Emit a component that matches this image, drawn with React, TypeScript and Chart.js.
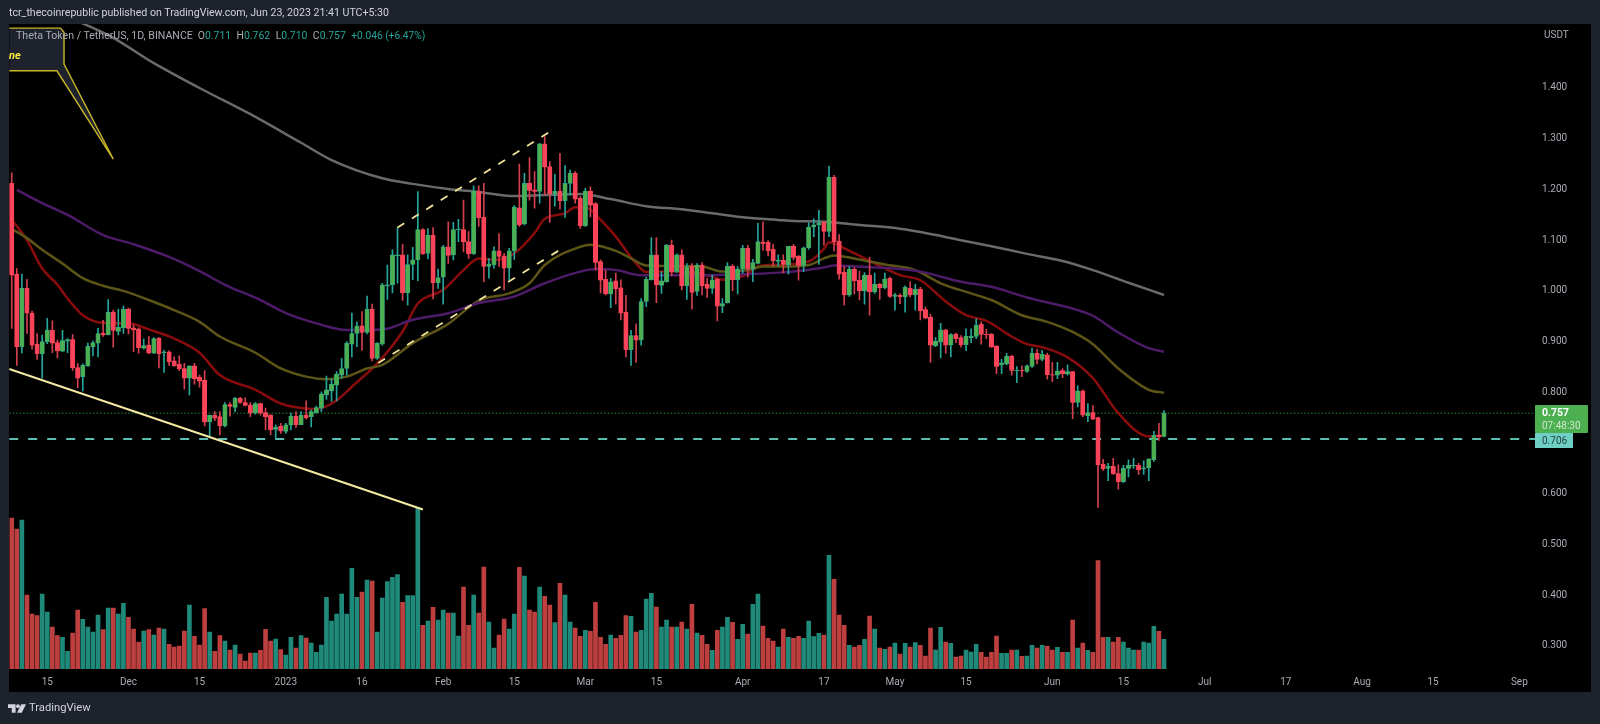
import React, { useEffect, useRef } from "react";
import { Chart, registerables } from "chart.js";

Chart.register(...registerables);

const opens = [1.210,1.031,.888,1.003,.954,.893,.874,.898,.920,.896,.879,.899,.902,.847,.829,.850,.888,.895,.915,.911,.956,.918,.925,.962,.925,.923,.885,.891,.875,.905,.876,.878,.860,.853,.845,.826,.850,.828,.822,.740,.753,.750,.732,.774,.768,.786,.778,.773,.757,.776,.758,.753,.725,.731,.721,.733,.751,.734,.753,.750,.758,.767,.793,.801,.812,.832,.845,.893,.914,.929,.916,.962,.865,.893,1.008,1.010,1.067,1.069,.994,1.050,1.059,1.119,1.072,1.108,1.014,1.025,1.085,1.069,1.118,1.119,1.095,1.071,1.195,1.143,1.046,1.049,1.077,1.067,1.043,1.077,1.162,1.130,1.210,1.197,1.194,1.288,1.243,1.189,1.195,1.176,1.210,1.230,1.181,1.126,1.195,1.170,1.056,1.021,.992,1.018,1.004,.956,.882,.910,.901,.977,1.020,1.069,1.009,1.016,1.088,1.036,1.069,1.008,1.047,.997,1.049,1.011,1.003,1.021,.968,.975,1.047,1.020,1.041,1.082,1.041,1.052,1.094,1.094,1.080,1.056,1.058,1.049,1.086,1.066,1.048,1.083,1.124,1.128,1.133,1.115,1.222,1.096,1.035,.990,1.041,1.019,.998,1.029,.996,1.011,1.004,1.023,.987,.989,.986,1.003,.990,1.001,.961,.946,.890,.897,.921,.891,.913,.906,.892,.906,.908,.932,.913,.913,.889,.852,.854,.869,.840,.842,.839,.849,.875,.863,.872,.833,.832,.841,.834,.839,.778,.801,.752,.758,.748,.656,.648,.652,.638,.622,.648,.653,.654,.647,.649,.665,.713,.711];
const highs = [1.231,1.042,1.031,1.021,.958,.914,.911,.944,.939,.901,.920,.904,.912,.855,.854,.895,.899,.924,.940,.981,.960,.962,.968,.964,.931,.925,.903,.908,.906,.906,.881,.880,.868,.870,.855,.850,.855,.832,.841,.753,.760,.760,.778,.778,.788,.788,.787,.778,.778,.777,.767,.754,.734,.737,.737,.757,.760,.760,.781,.763,.771,.799,.830,.824,.839,.865,.898,.954,.937,.957,.988,.972,.896,1.013,1.049,1.079,1.123,1.090,1.069,1.084,1.194,1.121,1.121,1.123,1.041,1.088,1.134,1.133,1.139,1.177,1.115,1.205,1.205,1.210,1.062,1.085,1.111,1.072,1.082,1.166,1.248,1.230,1.261,1.233,1.289,1.302,1.253,1.228,1.269,1.245,1.236,1.233,1.184,1.200,1.203,1.172,1.059,1.039,1.023,1.033,1.020,.989,.920,.933,.983,1.025,1.103,1.103,1.036,1.090,1.098,1.071,1.079,1.052,1.052,1.052,1.054,1.023,1.029,1.023,.983,1.054,1.050,1.046,1.088,1.088,1.060,1.131,1.134,1.097,1.090,1.069,1.069,1.086,1.090,1.068,1.085,1.132,1.140,1.157,1.134,1.244,1.226,1.109,1.046,1.046,1.044,1.037,1.034,1.064,1.033,1.013,1.033,1.025,.993,.992,1.008,1.016,1.011,1.005,.966,.952,.906,.934,.922,.914,.915,.910,.923,.923,.943,.937,.922,.914,.890,.863,.875,.871,.849,.850,.852,.885,.883,.881,.875,.857,.857,.845,.852,.839,.811,.803,.776,.772,.749,.666,.658,.668,.655,.654,.665,.668,.658,.663,.667,.721,.737,.762];
const lows = [.924,.851,.875,.914,.883,.863,.826,.894,.876,.866,.878,.876,.841,.807,.801,.849,.870,.868,.908,.911,.887,.911,.914,.913,.878,.875,.883,.874,.874,.846,.837,.851,.849,.841,.804,.793,.814,.808,.732,.712,.742,.714,.730,.751,.760,.776,.771,.750,.755,.753,.724,.714,.707,.717,.717,.724,.729,.734,.745,.730,.757,.760,.784,.780,.781,.826,.832,.868,.888,.881,.913,.860,.863,.891,.981,.994,1.013,.979,.970,1.020,1.018,1.070,1.061,.982,1.003,.972,1.052,1.059,1.095,1.075,1.062,1.070,1.125,1.016,1.023,1.043,1.046,1.000,1.019,1.060,1.125,1.128,1.177,1.161,1.171,1.187,1.133,1.165,1.159,1.143,1.187,1.171,1.121,1.125,1.144,1.039,.994,.990,.965,.972,.941,.868,.851,.857,.891,.967,1.019,.975,.993,1.015,1.028,1.034,1.000,.981,.962,.989,.990,.985,.993,.939,.955,.974,.998,.992,1.033,1.025,1.016,1.051,1.078,1.067,1.047,1.047,1.034,1.031,1.059,1.019,1.036,1.080,1.105,1.050,1.088,1.105,1.077,1.021,.970,.987,.992,.980,.972,.950,.993,.981,1.002,.985,.960,.973,.956,.986,.960,.941,.943,.857,.888,.866,.875,.868,.896,.887,.880,.896,.904,.893,.904,.887,.835,.835,.852,.832,.817,.829,.837,.847,.854,.860,.824,.819,.825,.827,.832,.746,.769,.750,.740,.744,.571,.644,.624,.636,.607,.620,.631,.648,.636,.636,.624,.662,.703,.710];
const closes = [1.029,.888,1.003,.954,.891,.874,.898,.921,.895,.880,.900,.902,.846,.826,.851,.889,.896,.914,.911,.956,.920,.926,.962,.924,.921,.886,.890,.875,.904,.874,.878,.858,.850,.844,.826,.850,.825,.820,.739,.753,.747,.732,.774,.770,.786,.778,.772,.757,.776,.758,.750,.724,.729,.722,.734,.751,.734,.753,.748,.760,.768,.795,.803,.814,.834,.845,.895,.914,.929,.916,.962,.865,.895,1.010,1.010,1.069,1.069,.994,1.050,1.059,1.119,1.071,1.108,1.014,1.024,1.085,1.068,1.119,1.120,1.095,1.071,1.195,1.142,1.046,1.051,1.077,1.066,1.043,1.077,1.163,1.128,1.210,1.196,1.194,1.288,1.242,1.189,1.195,1.176,1.210,1.230,1.179,1.126,1.195,1.167,1.054,1.019,.992,1.016,1.002,.954,.882,.910,.901,.977,1.021,1.069,1.010,1.018,1.088,1.036,1.069,1.008,1.045,.995,1.049,1.008,1.003,1.020,.968,.973,1.047,1.020,1.041,1.082,1.041,1.054,1.095,1.091,1.077,1.057,1.059,1.050,1.086,1.064,1.048,1.083,1.124,1.128,1.132,1.115,1.222,1.095,1.031,.990,1.041,1.018,.998,1.029,.996,1.011,1.004,1.022,.987,.990,.986,1.005,.990,1.001,.959,.944,.891,.899,.921,.891,.912,.904,.892,.909,.909,.930,.912,.911,.887,.849,.856,.869,.841,.842,.840,.850,.875,.863,.873,.833,.832,.840,.835,.839,.778,.801,.753,.758,.745,.655,.647,.652,.637,.622,.648,.654,.654,.645,.649,.667,.713,.710,.757];
const volumes = [453,420,447,222,165,160,225,171,126,100,95,53,108,177,149,126,111,162,118,183,183,165,197,155,120,81,114,118,102,123,120,74,66,69,114,192,98,72,181,111,53,100,84,57,72,45,24,48,48,56,119,84,90,58,42,95,63,100,93,78,50,72,215,144,165,225,165,302,215,231,267,264,111,213,262,275,283,200,220,220,482,131,144,185,147,177,168,168,99,246,131,222,168,306,141,63,102,150,120,165,305,279,177,171,246,218,192,139,257,222,141,123,98,116,113,200,95,74,102,92,101,160,158,111,116,210,227,186,126,147,126,126,141,120,194,108,101,74,56,116,126,155,140,89,134,105,194,225,129,92,84,66,120,95,92,98,92,144,97,107,102,341,269,162,131,71,66,71,89,159,120,63,59,66,78,45,77,66,79,71,39,123,57,125,81,77,36,39,57,51,74,50,36,50,99,47,47,57,57,38,39,71,63,71,68,57,65,50,50,147,63,78,56,50,325,95,95,81,95,81,63,57,57,81,78,128,113,89];

const ema20Days = [0,3,6,9,11,14,18,23,27,32,37,41,48,53,57,60,64,67,72,77,80,85,89,92,95,99,103,105,109,111,113,116,119,123,125,128,132,138,140,145,147,150,157,160,161,164,168,175,179,184,188,192,197,200,203,208,213,218,224,227];
const ema20 = [1.138,1.098,1.042,1.010,.983,.950,.935,.934,.922,.904,.876,.832,.803,.776,.767,.765,.782,.809,.855,.918,.973,1.000,1.039,1.062,1.059,1.072,1.112,1.140,1.151,1.163,1.163,1.138,1.105,1.052,1.035,1.036,1.036,1.026,1.020,1.031,1.046,1.049,1.056,1.081,1.094,1.082,1.062,1.029,1.019,.977,.950,.939,.908,.893,.887,.867,.826,.757,.711,.713];
const ema50Days = [0,3,6,10,14,18,22,27,32,37,41,48,53,58,62,66,70,73,79,86,92,98,102,105,112,114,119,122,125,130,136,140,145,148,152,157,160,162,167,172,178,183,189,193,199,204,209,213,218,224,227];
const ema50 = [1.120,1.102,1.079,1.052,1.023,1.008,.998,.980,.960,.937,.908,.876,.845,.829,.824,.829,.845,.852,.895,.933,.979,.993,1.013,1.049,1.085,1.089,1.077,1.062,1.048,1.047,1.046,1.036,1.039,1.046,1.046,1.049,1.062,1.068,1.060,1.050,1.039,1.013,.993,.980,.950,.937,.917,.893,.845,.803,.797];
const ema100Days = [1,6,11,18,24,31,37,42,49,54,60,66,73,79,86,92,99,105,112,115,119,124,128,138,145,151,154,160,162,167,174,179,187,193,200,210,213,218,224,227];
const ema100 = [1.197,1.171,1.148,1.108,1.090,1.065,1.037,1.010,.980,.954,.934,.921,.922,.941,.954,.974,.987,1.013,1.036,1.041,1.039,1.029,1.029,1.029,1.031,1.034,1.036,1.044,1.048,1.046,1.042,1.036,1.016,1.006,.985,.960,.949,.916,.885,.878];
const ema200Days = [13,20,28,37,48,57,63,73,79,86,92,99,105,112,118,125,132,138,145,151,154,161,167,174,179,187,193,200,207,213,220,227];
const ema200 = [1.530,1.497,1.447,1.398,1.341,1.290,1.256,1.220,1.209,1.199,1.193,1.185,1.187,1.189,1.179,1.165,1.159,1.151,1.142,1.138,1.136,1.134,1.128,1.122,1.114,1.098,1.086,1.071,1.057,1.039,1.014,.990];

const lastPrice = 0.757;
const supportLevel = 0.706;
const trendDays = [-0.5, 81];
const trendPrices = [0.844, 0.567];
const channelUpDays = [76, 106.2];
const channelUpPrices = [1.123, 1.313];
const channelLowDays = [72.2, 108];
const channelLowPrices = [0.856, 1.079];
const calloutDays = [-0.5, 9.6, 10.3, 10.3, 20, 8.9, -0.5];
const calloutPrices = [1.516, 1.516, 1.508, 1.445, 1.258, 1.432, 1.432];

const tickDays = [7, 23, 37, 54, 69, 85, 99, 113, 127, 144, 160, 174, 188, 205, 219, 235, 251, 266, 280, 297];
const tickLabels = ["15", "Dec", "15", "2023", "16", "Feb", "15", "Mar", "15", "Apr", "17", "May", "15", "Jun", "15", "Jul", "17", "Aug", "15", "Sep"];
const priceTicks = [0.3, 0.4, 0.5, 0.6, 0.7, 0.8, 0.9, 1.0, 1.1, 1.2, 1.3, 1.4];

const UI = "Roboto, sans-serif";

const zip = (xs: number[], ys: number[]) => xs.map((x, k) => ({ x, y: ys[k] }));

function lineSet(data: any[], color: string, width: number, order: number, extra: any = {}) {
  return { type: "line", data, borderColor: color, borderWidth: width, pointRadius: 0, order, yAxisID: "y", ...extra };
}

export default function App() {
  const ref = useRef<HTMLCanvasElement>(null);
  useEffect(() => {
    const idx = opens.map((_, i) => i);
    const up = (i: number) => closes[i] >= opens[i];
    const smooth = { cubicInterpolationMode: "monotone" };
    const chart = new Chart(ref.current as HTMLCanvasElement, {
      type: "bar",
      data: {
        datasets: [
          {
            type: "bar", yAxisID: "vol", order: 20, grouped: false, barThickness: 4,
            data: idx.map((i) => ({ x: i, y: volumes[i] })),
            backgroundColor: idx.map((i) => (up(i) ? "#1f8a7a" : "#bd3f3f")),
          },
          lineSet([{ x: -0.5, y: lastPrice }, { x: 300.5, y: lastPrice }], "#2f8f35", 1, 15, { borderDash: [1.5, 2] }),
          lineSet([{ x: -0.5, y: supportLevel }, { x: 300.5, y: supportLevel }], "#5dbdb0", 2, 15, { borderDash: [9, 10] }),
          lineSet(zip(ema200Days, ema200), "#6a6a6a", 2.5, 10, smooth),
          lineSet(zip(ema100Days, ema100), "#4d1b68", 2.5, 10, smooth),
          lineSet(zip(ema50Days, ema50), "#5d5517", 2.5, 10, smooth),
          lineSet(zip(ema20Days, ema20), "#8a0c0c", 2.5, 10, smooth),
          {
            type: "bar", yAxisID: "y", order: 6, grouped: false, barThickness: 1,
            data: idx.map((i) => ({ x: i, y: [lows[i], highs[i]] })),
            backgroundColor: idx.map((i) => (up(i) ? "#26a69a" : "#d2404f")),
          },
          {
            type: "bar", yAxisID: "y", order: 5, grouped: false, barThickness: 4.4,
            data: idx.map((i) => ({ x: i, y: [opens[i], closes[i]] })),
            backgroundColor: idx.map((i) => (up(i) ? "#4caf50" : "#fb4459")),
            borderColor: idx.map((i) => (up(i) ? "#2aa38a" : "#fb4459")),
            borderWidth: 0.6, borderSkipped: false,
          },
          lineSet(zip(trendDays, trendPrices), "#f4e9a3", 2.2, 3),
          lineSet(zip(channelUpDays, channelUpPrices), "#efe29a", 1.8, 3, { borderDash: [8, 9] }),
          lineSet(zip(channelLowDays, channelLowPrices), "#efe29a", 1.8, 3, { borderDash: [8, 9] }),
          lineSet(zip(calloutDays, calloutPrices), "#c9b52a", 1.4, 2, { fill: "shape", backgroundColor: "#1e222d" }),
        ] as any,
      },
      options: {
        responsive: false,
        animation: false,
        layout: { padding: { left: 9.2, right: 9.3, top: 24, bottom: 32 } },
        plugins: { legend: { display: false }, tooltip: { enabled: false } },
        scales: {
          x: {
            type: "linear", min: -0.5, max: 300.5, offset: false,
            grid: { display: false, drawTicks: false }, border: { display: false },
            afterFit: (s: any) => { s.height = 23; },
            afterBuildTicks: (s: any) => { s.ticks = tickDays.map((value) => ({ value })); },
            ticks: {
              autoSkip: false, maxRotation: 0, padding: 7, color: "#a9acb4",
              font: { family: UI, size: 10 },
              callback: (v: any) => tickLabels[tickDays.indexOf(v)],
            },
          },
          y: {
            position: "right", min: 0.2525, max: 1.5242,
            grid: { display: false, drawTicks: false }, border: { display: false },
            afterFit: (s: any) => { s.width = 53.6; },
            afterBuildTicks: (s: any) => { s.ticks = priceTicks.map((value) => ({ value })); },
            ticks: {
              padding: 5, labelOffset: 1, color: "#a9acb4", font: { family: UI, size: 10 },
              callback: (v: any) => Number(v).toFixed(3),
            },
          },
          vol: { display: false, min: 0, max: 1935 },
        },
      } as any,
    });
    return () => chart.destroy();
  }, []);

  const abs = (s: React.CSSProperties): React.CSSProperties => ({ position: "absolute", whiteSpace: "nowrap", ...s });
  const teal = "#26a69a";
  return (
    <div style={{ position: "fixed", left: 0, top: 0, width: 1600, height: 724, background: "#1e222d", overflow: "hidden", fontFamily: UI }}>
      <div style={abs({ left: 9.2, top: 24, width: 1581.5, height: 668, background: "#000" })} />
      <canvas ref={ref} width={1600} height={724} style={{ position: "absolute", left: 0, top: 0, display: "block" }} />
      <div style={abs({ left: 9, top: 6, fontSize: 10.6, lineHeight: "14px", color: "#d1d4dc" })}>
        tcr_thecoinrepublic published on TradingView.com, Jun 23, 2023 21:41 UTC+5:30
      </div>
      <div style={abs({ left: 16, top: 29, fontSize: 10.6, lineHeight: "14px", color: "#a9acb4" })}>
        Theta Token / TetherUS, 1D, BINANCE
        <span style={{ marginLeft: 5, fontSize: 10.4 }}>O<span style={{ color: teal }}>0.711</span></span>
        <span style={{ marginLeft: 5.5, fontSize: 10.4 }}>H<span style={{ color: teal }}>0.762</span></span>
        <span style={{ marginLeft: 5.5, fontSize: 10.4 }}>L<span style={{ color: teal }}>0.710</span></span>
        <span style={{ marginLeft: 5.5, fontSize: 10.4 }}>C<span style={{ color: teal }}>0.757</span></span>
        <span style={{ marginLeft: 5.5, fontSize: 10.2, color: teal }}>+0.046 (+6.47%)</span>
      </div>
      <div style={abs({ left: 9, top: 49, fontSize: 11, lineHeight: "14px", fontWeight: 700, fontStyle: "italic", color: "#f5e642" })}>ne</div>
      <div style={abs({ left: 1544, top: 28, fontSize: 10, lineHeight: "14px", color: "#a9acb4" })}>USDT</div>
      <div style={abs({ left: 1535, top: 405, width: 52.7, height: 27.7, background: "#4caf50", borderRadius: 1 })} />
      <div style={abs({ left: 1542, top: 406, fontSize: 10.5, lineHeight: "14px", fontWeight: 700, color: "#fff" })}>0.757</div>
      <div style={abs({ left: 1542, top: 418.5, fontSize: 10, lineHeight: "14px", color: "#cfe8cf" })}>07:48:30</div>
      <div style={abs({ left: 1535, top: 432.7, width: 38, height: 15, background: "#6fcfc4" })} />
      <div style={abs({ left: 1542, top: 433.5, fontSize: 10, lineHeight: "14px", color: "#1f3f3c" })}>0.706</div>
      <svg width="18" height="9" viewBox="0 0 19 9" style={{ position: "absolute", left: 8.3, top: 704 }}>
        <path d="M0 0H8V9H4V4H0Z" fill="#d1d4dc" />
        <circle cx="10.5" cy="2" r="2" fill="#d1d4dc" />
        <path d="M14 0H19L14.5 9H9.5Z" fill="#d1d4dc" />
      </svg>
      <div style={abs({ left: 29, top: 701, fontSize: 11.2, lineHeight: "14px", color: "#d1d4dc" })}>TradingView</div>
    </div>
  );
}
